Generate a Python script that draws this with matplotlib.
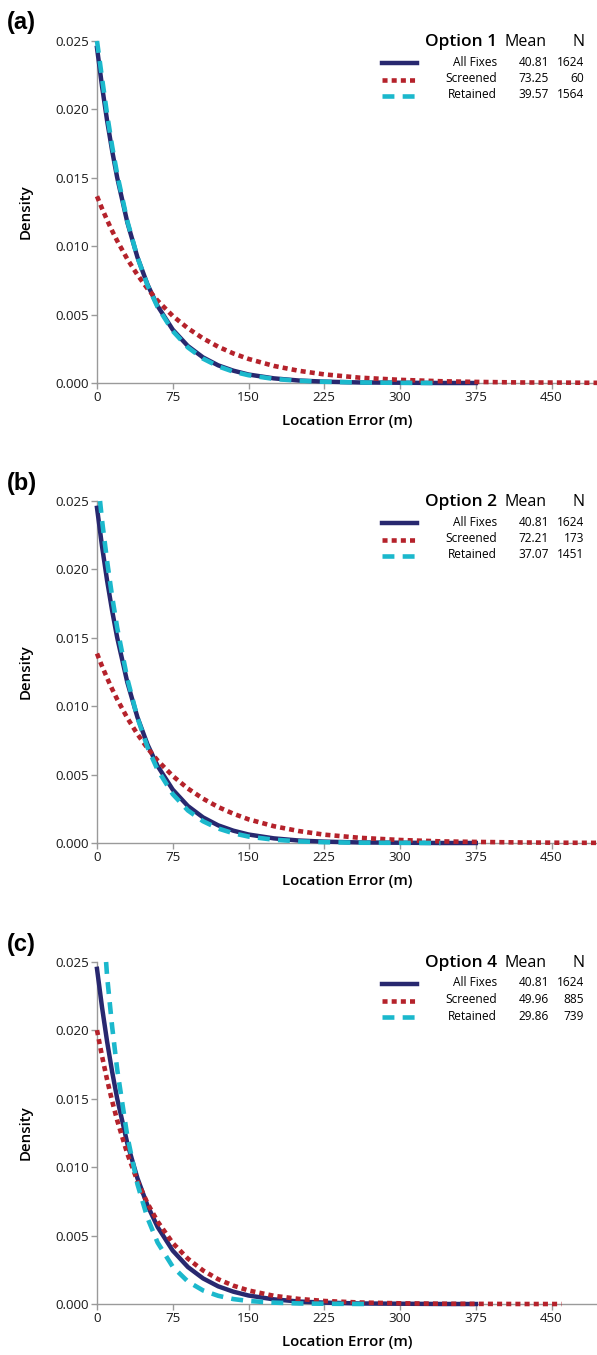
import numpy as np
import matplotlib.pyplot as plt
from matplotlib.lines import Line2D

plt.rcParams['font.family'] = ['Open Sans', 'DejaVu Sans']

# -----------------------------
# Values
# -----------------------------
err_m = [0, 5, 10, 15, 20, 30, 40, 50, 60, 75, 90, 105, 120, 135, 150,
         175, 200, 225, 260, 300, 340, 375, 420, 460, 500]

# All Fixes (same in every panel), ends at ~375 m
all_fixes = [0.02450, 0.02168, 0.01918, 0.01697, 0.01501, 0.01175, 0.00920,
             0.00720, 0.00563, 0.00390, 0.00270, 0.00187, 0.00129, 0.00090,
             0.00062, 0.00034, 0.00018, 0.00010, 0.00004, 0.00002, 0.0, 0.0,
             np.nan, np.nan, np.nan]

# Option 1
opt1_screened = [0.01365, 0.01275, 0.01191, 0.01112, 0.01039, 0.00906, 0.00791,
                 0.00690, 0.00602, 0.00490, 0.00400, 0.00326, 0.00265, 0.00216,
                 0.00176, 0.00125, 0.00089, 0.00063, 0.00039, 0.00023, 0.00013,
                 0.00008, 0.00004, 0.00003, 0.00001]
opt1_retained = [0.02500, 0.02227, 0.01963, 0.01730, 0.01525, 0.01184, 0.00920,
                 0.00714, 0.00555, 0.00380, 0.00260, 0.00178, 0.00122, 0.00083,
                 0.00057, 0.00030, 0.00016, 0.00009, 0.00004, 0.00001, 0.0,
                 np.nan, np.nan, np.nan, np.nan]

# Option 2
opt2_screened = [0.01385, 0.01292, 0.01206, 0.01125, 0.01050, 0.00914, 0.00796,
                 0.00693, 0.00603, 0.00490, 0.00398, 0.00324, 0.00263, 0.00214,
                 0.00173, 0.00123, 0.00087, 0.00061, 0.00038, 0.00022, 0.00012,
                 0.00008, 0.00004, 0.00002, 0.00001]
opt2_ret_x = [3] + err_m[1:21]
opt2_retained = [0.02500, 0.02357, 0.02060, 0.01800, 0.01573, 0.01201, 0.00917,
                 0.00700, 0.00535, 0.00357, 0.00238, 0.00159, 0.00106, 0.00071,
                 0.00047, 0.00024, 0.00012, 0.00006, 0.00002, 0.00001, 0.0]

# Option 4
opt4_screened = [0.02002, 0.01811, 0.01639, 0.01483, 0.01342, 0.01099, 0.00899,
                 0.00736, 0.00603, 0.00446, 0.00331, 0.00245, 0.00181, 0.00134,
                 0.00099, 0.00060, 0.00037, 0.00022, 0.00011, 0.00005, 0.00002,
                 0.00001, 0.0, 0.0, np.nan]
opt4_ret_x = [9, 10, 15, 20, 30, 40, 50, 60, 75, 90, 105, 120, 135, 150,
              175, 200, 225, 268]
opt4_retained = [0.02500, 0.02395, 0.02026, 0.01714, 0.01227, 0.00877, 0.00628,
                 0.00449, 0.00272, 0.00164, 0.00099, 0.00060, 0.00036, 0.00022,
                 0.00010, 0.00004, 0.00002, 0.0]

panel_tags = ['(a)', '(b)', '(c)']
option_names = ['Option 1', 'Option 2', 'Option 4']
series_names = ['All Fixes', 'Screened', 'Retained']
means = [['40.81', '73.25', '39.57'],
         ['40.81', '72.21', '37.07'],
         ['40.81', '49.96', '29.86']]
counts = [['1624', '60', '1564'],
          ['1624', '173', '1451'],
          ['1624', '885', '739']]

panels = [
    [(err_m, all_fixes), (err_m, opt1_screened), (err_m, opt1_retained)],
    [(err_m, all_fixes), (err_m, opt2_screened), (opt2_ret_x, opt2_retained)],
    [(err_m, all_fixes), (err_m, opt4_screened), (opt4_ret_x, opt4_retained)],
]

x_ticks = [0, 75, 150, 225, 300, 375, 450]
y_ticks = [0.000, 0.005, 0.010, 0.015, 0.020, 0.025]

# line styles
navy = '#28286f'
red = '#b5222b'
cyan = '#1bb8cc'
styles = [dict(color=navy, lw=3.2, ls='-'),
          dict(color=red, lw=3.3, ls=(0, (1.1, 0.9))),
          dict(color=cyan, lw=3.3, ls=(0, (2.6, 1.8)))]

# -----------------------------
# Figure (pixel layout)
# -----------------------------
W, H = 597, 1355
fig = plt.figure(figsize=(W / 100, H / 100), dpi=100)


def fx(px):
    return px / W


def fy(py):
    return 1 - py / H


tops = [41, 501, 962]
ax_h = 342
ax_left = 97

for i in range(3):
    top = tops[i]
    ax = fig.add_axes([fx(ax_left), fy(top + ax_h), fx(W - ax_left), ax_h / H])

    for (xs, ys), st in zip(panels[i], styles):
        ax.plot(xs, ys, color=st['color'], lw=st['lw'], ls=st['ls'],
                dash_capstyle='butt', clip_on=False, zorder=3)

    ax.set_xlim(0, 495)
    ax.set_ylim(0, 0.025)
    ax.set_xticks(x_ticks)
    ax.set_yticks(y_ticks)
    ax.set_yticklabels(['%.3f' % v for v in y_ticks])
    for s in ['top', 'right']:
        ax.spines[s].set_visible(False)
    for s in ['left', 'bottom']:
        ax.spines[s].set_color('#9a9a9a')
        ax.spines[s].set_linewidth(1.0)
    ax.tick_params(direction='out', length=4, width=1, color='#9a9a9a',
                   labelsize=9.6, labelcolor='#1a1a1a', pad=2)
    ax.set_xlabel('Location Error (m)', fontsize=10.8, fontweight='semibold',
                  labelpad=7)
    ax.set_ylabel('Density', fontsize=10.8, fontweight='semibold', labelpad=16)

    # panel tag
    fig.text(fx(7), fy(top - 18), panel_tags[i], fontsize=17, fontweight='bold',
             family=['Liberation Sans', 'DejaVu Sans'], va='center', ha='left')

    # legend block
    fig.text(fx(497), fy(top + 1), option_names[i], fontsize=12.5,
             fontweight='semibold', ha='right', va='center')
    fig.text(fx(547), fy(top + 1), 'Mean', fontsize=11.5, ha='right', va='center')
    fig.text(fx(584), fy(top + 1), 'N', fontsize=11.5, ha='right', va='center')
    for j in range(3):
        row_y = top + 21 + j * 16.5
        fig.add_artist(Line2D([fx(382), fx(417)], [fy(row_y + 1), fy(row_y + 1)],
                              transform=fig.transFigure, color=styles[j]['color'],
                              lw=styles[j]['lw'], ls=styles[j]['ls'],
                              dash_capstyle='butt'))
        fig.text(fx(497), fy(row_y), series_names[j], fontsize=8.6,
                 ha='right', va='center')
        fig.text(fx(549), fy(row_y), means[i][j], fontsize=8.6,
                 ha='right', va='center')
        fig.text(fx(584), fy(row_y), counts[i][j], fontsize=8.6,
                 ha='right', va='center')

fig.savefig('out.png', dpi=100)
